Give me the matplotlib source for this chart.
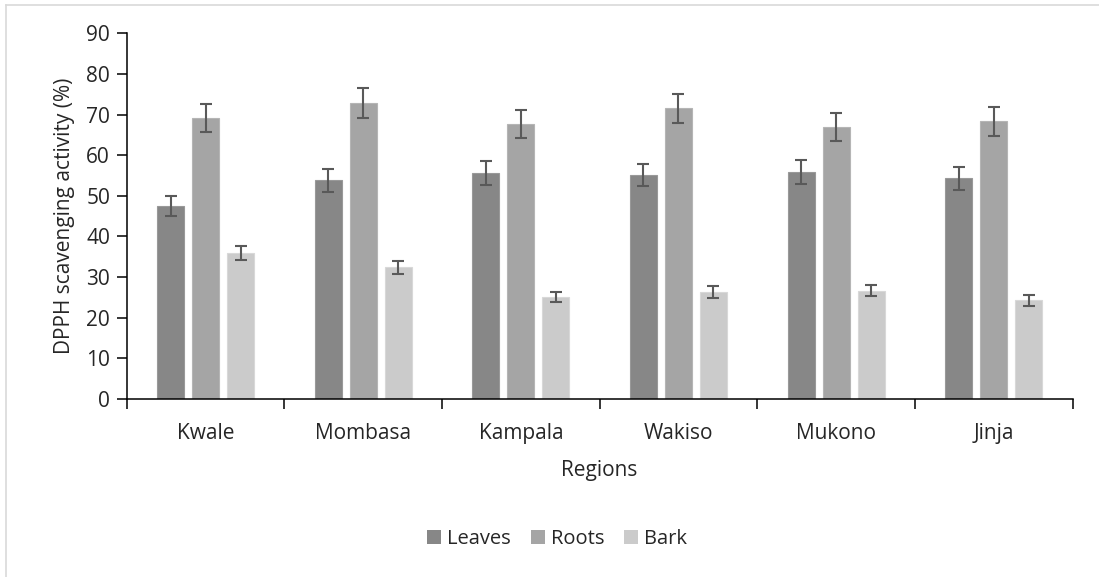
import numpy as np
import matplotlib
matplotlib.use("Agg")
import matplotlib.pyplot as plt
from matplotlib.patches import Patch
from matplotlib.lines import Line2D

plt.rcParams['font.family'] = ['Open Sans', 'DejaVu Sans']

regions = ["Kwale", "Mombasa", "Kampala", "Wakiso", "Mukono", "Jinja"]
series = ["Leaves", "Roots", "Bark"]
leaves = [47.5, 53.8, 55.6, 55.1, 55.9, 54.3]
roots = [69.2, 72.8, 67.6, 71.5, 66.9, 68.3]
bark = [35.9, 32.4, 25.1, 26.4, 26.7, 24.3]
leaves_err = [2.5, 2.8, 2.9, 2.8, 2.9, 2.8]
roots_err = [3.4, 3.7, 3.4, 3.6, 3.4, 3.6]
bark_err = [1.8, 1.6, 1.3, 1.5, 1.4, 1.3]

colors = ["#878787", "#a5a5a5", "#cbcbcb"]
edges = ["#999999", "#b5b5b5", "#d8d8d8"]

fig = plt.figure(figsize=(10.99, 5.77), dpi=100)
ax = fig.add_axes([0.1153, 0.3085, 0.8607, 0.6338])

x = np.arange(len(regions))
width = 0.171
step = 0.222
for i, (vals, errs) in enumerate(zip([leaves, roots, bark], [leaves_err, roots_err, bark_err])):
    ax.bar(x + (i - 1) * step, vals, width, color=colors[i], edgecolor=edges[i],
           linewidth=0.8, zorder=2)
    ax.errorbar(x + (i - 1) * step, vals, yerr=errs, fmt='none', ecolor='#595959',
                elinewidth=1.5, capsize=4.2, capthick=1.5, zorder=3)

ax.set_xlim(-0.5, len(regions) - 0.5)
ax.set_ylim(0, 90)
ax.set_yticks(np.arange(0, 91, 10))
ax.set_xticks(x)
ax.set_xticklabels(regions)
ax.set_xticks(np.arange(-0.5, len(regions), 1), minor=True)
ax.tick_params(axis='x', which='major', length=0, pad=17, labelsize=15, labelcolor='#262626')
ax.tick_params(axis='x', which='minor', length=7, width=1.1, direction='out', color='#000000')
ax.tick_params(axis='y', length=7, width=1.1, direction='out', pad=5, labelsize=15,
               labelcolor='#262626')

for side in ['top', 'right']:
    ax.spines[side].set_visible(False)
for side in ['left', 'bottom']:
    ax.spines[side].set_linewidth(1.1)
    ax.spines[side].set_color('#000000')

ax.set_ylabel("DPPH scavenging activity (%)", fontsize=15, color='#262626', labelpad=8)
ax.set_xlabel("Regions", fontsize=15, color='#262626', labelpad=12)

handles = [Patch(facecolor=c, edgecolor='none') for c in colors]
fig.legend(handles, series, loc='center', bbox_to_anchor=(557 / 1099, 1 - 539 / 577),
           ncol=3, frameon=False, fontsize=14.5, handlelength=0.7, handleheight=0.7,
           handletextpad=0.3, columnspacing=1.0, labelcolor='#262626')

# Outer frame lines
fig.add_artist(Line2D([6 / 1099, 6 / 1099], [0, 1 - 4.7 / 577], transform=fig.transFigure,
                      color='#d9d9d9', linewidth=1.2))
fig.add_artist(Line2D([6 / 1099, 1], [1 - 4.7 / 577, 1 - 4.7 / 577], transform=fig.transFigure,
                      color='#d9d9d9', linewidth=1.2))

fig.savefig("out.png", dpi=100)
